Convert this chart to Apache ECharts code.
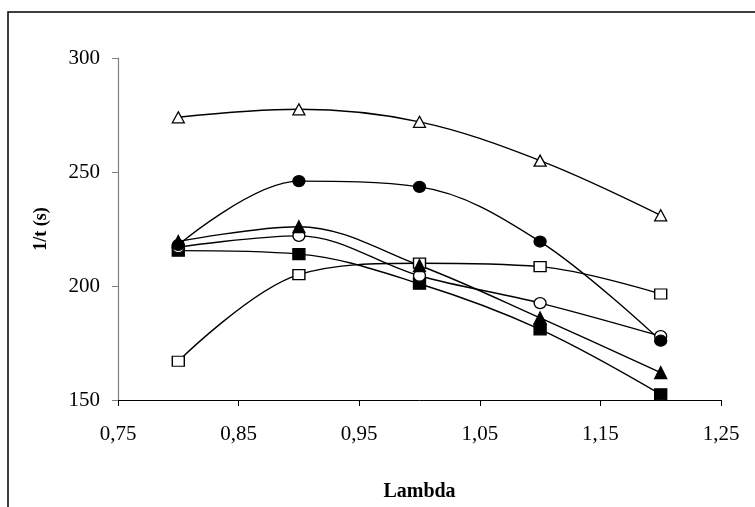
<!DOCTYPE html>
<html>
<head>
<meta charset="utf-8">
<script src="https://cdn.jsdelivr.net/npm/echarts@6/dist/echarts.min.js"></script>
<style>html,body{margin:0;padding:0;background:#fff;}#c{width:755px;height:507px;}</style>
</head>
<body>
<div id="c"></div>
<script>
const lambdas = [0.8, 0.9, 1.0, 1.1, 1.2];
const openTriangle = [274, 277.5, 272, 255, 231];
const filledCircle = [218, 246, 243.5, 219.5, 176];
const filledTriangle = [219.5, 226, 209, 186, 162];
const openCircle = [217, 222, 204.5, 192.5, 178];
const filledSquare = [215.5, 214, 201, 181, 152.5];
const openSquare = [167, 205, 210, 208.5, 196.5];
const xTicks = [0.75, 0.85, 0.95, 1.05, 1.15, 1.25];
const yTicks = [150, 200, 250, 300];

const FONT = '"Liberation Serif", "Times New Roman", serif';
const triPath = 'path://M5,0 L10,9 L0,9 Z';

function mk(name, vals, symbol, filled, size) {
  return {
    name: name,
    type: 'line',
    smooth: 0.35,
    data: lambdas.map((x, i) => [x, vals[i]]),
    symbol: symbol,
    symbolSize: size,
    showSymbol: true,
    lineStyle: { color: '#000', width: 1.4 },
    itemStyle: { color: filled ? '#000' : '#fff', borderColor: '#000', borderWidth: 1.3 },
    z: 3
  };
}

const chart = echarts.init(document.getElementById('c'), null, { renderer: 'canvas' });
chart.setOption({
  animation: false,
  backgroundColor: '#fff',
  graphic: [{
    type: 'rect',
    shape: { x: 8, y: 12, width: 900, height: 700 },
    style: { fill: 'none', stroke: '#000', lineWidth: 1.5 },
    silent: true
  }],
  grid: { left: 118, right: 34, top: 58, bottom: 107, containLabel: false },
  xAxis: {
    type: 'value',
    min: 0.75, max: 1.25, interval: 0.1,
    name: 'Lambda',
    nameLocation: 'middle',
    nameGap: 82,
    nameTextStyle: { fontFamily: FONT, fontWeight: 'bold', fontSize: 20, color: '#000' },
    axisLine: { lineStyle: { color: '#000', width: 1 } },
    axisTick: { show: true, length: 6, inside: false, lineStyle: { color: '#000' } },
    axisLabel: {
      margin: 24,
      fontFamily: FONT, fontSize: 21, color: '#000',
      formatter: v => {
        const t = xTicks.find(k => Math.abs(k - v) < 1e-6);
        return t === undefined ? '' : t.toFixed(2).replace('.', ',');
      }
    },
    splitLine: { show: false }
  },
  yAxis: {
    type: 'value',
    min: yTicks[0], max: yTicks[yTicks.length - 1], interval: 50,
    name: '1/t (s)',
    nameLocation: 'middle',
    nameGap: 68,
    nameRotate: 90,
    nameTextStyle: { fontFamily: FONT, fontWeight: 'bold', fontSize: 18, color: '#000' },
    axisLine: { show: true, lineStyle: { color: '#808080', width: 1.2 } },
    axisTick: { show: true, length: 6, lineStyle: { color: '#808080' } },
    axisLabel: { margin: 18, fontFamily: FONT, fontSize: 21, color: '#000' },
    splitLine: { show: false }
  },
  series: [
    mk('openSquare', openSquare, 'rect', false, [12, 10]),
    mk('filledSquare', filledSquare, 'rect', true, [12, 11]),
    mk('openCircle', openCircle, 'circle', false, [12, 11]),
    mk('filledTriangle', filledTriangle, triPath, true, [12, 12]),
    mk('filledCircle', filledCircle, 'circle', true, [12, 11]),
    mk('openTriangle', openTriangle, triPath, false, [12, 11])
  ]
});
</script>
</body>
</html>
